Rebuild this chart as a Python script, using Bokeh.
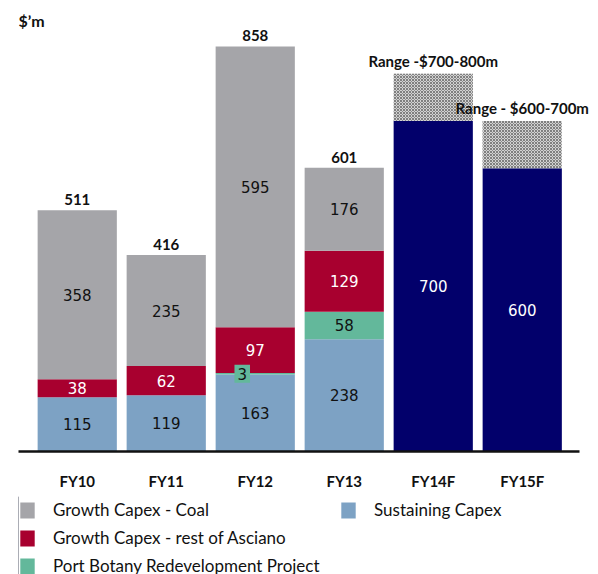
from bokeh.plotting import figure
from bokeh.layouts import column
from bokeh.models import ColumnDataSource, Legend, LegendItem, Label, LabelSet, FixedTicker
from bokeh.core.properties import value
from bokeh.embed import file_html
from bokeh.resources import INLINE

years = ["FY10", "FY11", "FY12", "FY13", "FY14F", "FY15F"]
sustaining = [115, 119, 163, 238, 0, 0]
port_botany = [0, 0, 3, 58, 0, 0]
rest_asciano = [38, 62, 97, 129, 0, 0]
coal = [358, 235, 595, 176, 0, 0]
forecast_low = [0, 0, 0, 0, 700, 600]
forecast_range = [0, 0, 0, 0, 100, 100]
totals = [511, 416, 858, 601, 0, 0]
range_labels = ["", "", "", "", "Range -$700-800m", "Range - $600-700m"]
legend_labels = ["Growth Capex - Coal", "Growth Capex - rest of Asciano",
                 "Port Botany Redevelopment Project", "Sustaining Capex"]

C_COAL = "#A5A5A9"
C_REST = "#A8002F"
C_PORT = "#63B89B"
C_SUST = "#7DA2C4"
C_NAVY = "#02006B"

xs = list(range(len(years)))
W = 0.89
X0, X1 = -0.66, 5.64

p = figure(width=598, height=496, x_range=(X0, X0 + 580 / 89.0), y_range=(0, 934),
           output_backend="svg", toolbar_location=None,
           min_border_left=18, min_border_right=0, min_border_top=10, min_border_bottom=45)
p.yaxis.visible = False
p.grid.visible = False
p.outline_line_color = None

src = ColumnDataSource(dict(x=xs, sustaining=sustaining, port=port_botany,
                            rest=rest_asciano, coal=coal))

rs = p.vbar_stack(["sustaining", "port", "rest", "coal"], x="x", width=W, source=src,
                  color=[C_SUST, C_PORT, C_REST, C_COAL], line_color=None)
p.vbar(x=xs, bottom=0, top=forecast_low, width=W, fill_color=C_NAVY, line_color=None)
p.vbar(x=xs, bottom=forecast_low, top=[a + b for a, b in zip(forecast_low, forecast_range)],
       width=W, fill_color="#d2d2d2", line_color=None,
       hatch_pattern="diagonal_cross", hatch_scale=3, hatch_weight=1, hatch_color="#7f7f7f")

# segment labels
lx, ly, lt, lc = [], [], [], []
sx, sy, st = [], [], []
series = [(sustaining, "#111111"), (port_botany, "#111111"), (rest_asciano, "#ffffff"),
          (coal, "#111111"), (forecast_low, "#ffffff")]
for i in xs:
    base = 0
    for vals, col in series:
        v = vals[i]
        if v > 0:
            if v < 10:
                sx.append(i); sy.append(base + v / 2); st.append(str(v))
            else:
                lx.append(i); ly.append(base + v / 2); lt.append(str(v)); lc.append(col)
        if vals is not forecast_low:
            base += v
p.text(x=lx, y=ly, text=lt, text_color=lc, text_align="center", text_baseline="middle",
       text_font=value("DejaVu Sans"), text_font_size="15px")
p.text(x=sx, y=sy, text=st, text_color="#111111", text_align="center", text_baseline="middle",
       text_font=value("DejaVu Sans"), text_font_size="15px", x_offset=-13,
       background_fill_color=C_PORT, padding=3)

# totals and range labels
tx = [i for i in xs if totals[i] > 0]
tot_src = ColumnDataSource(dict(x=tx, y=[totals[i] for i in tx], t=[str(totals[i]) for i in tx]))
p.add_layout(LabelSet(x="x", y="y", text="t", source=tot_src, text_align="center",
                      text_baseline="bottom", y_offset=5, text_color="#111111",
                      text_font=value("Lato"), text_font_style="bold", text_font_size="15px"))
rx = [i for i in xs if range_labels[i]]
rng_src = ColumnDataSource(dict(x=rx, y=[forecast_low[i] + forecast_range[i] for i in rx],
                                t=[range_labels[i] for i in rx]))
p.add_layout(LabelSet(x="x", y="y", text="t", source=rng_src, text_align="center",
                      text_baseline="bottom", y_offset=4, text_color="#111111",
                      text_font=value("Lato"), text_font_style="bold", text_font_size="15px"))

p.add_layout(Label(x=X0, y=912, text="$\u2019m", text_font="Lato", text_font_style="bold",
                   text_font_size="16px", text_color="#111111", text_baseline="middle"))

ax = p.xaxis[0]
ax.ticker = FixedTicker(ticks=xs)
ax.bounds = (X0, X1)
ax.major_label_overrides = {i: y for i, y in enumerate(years)}
ax.axis_line_width = 2.5
ax.axis_line_color = "#111111"
ax.major_tick_line_color = None
ax.minor_tick_line_color = None
ax.major_tick_out = 0
ax.major_label_standoff = 20
ax.major_label_text_font = "Lato"
ax.major_label_text_font_style = "bold"
ax.major_label_text_font_size = "15px"
ax.major_label_text_color = "#111111"

# legend strip (swatch renderers sit outside the visible range; only the legend shows)
leg = figure(width=598, height=78, x_range=(0, 1), y_range=(0, 1),
             output_backend="svg", toolbar_location=None,
             min_border_left=0, min_border_right=0, min_border_top=0, min_border_bottom=0)
leg.axis.visible = False
leg.grid.visible = False
leg.outline_line_color = None
leg_colors = [C_COAL, C_REST, C_PORT, C_SUST]
leg_rs = [leg.vbar(x=[-5], top=[1], width=1, fill_color=c, line_color=None) for c in leg_colors]
legend = Legend(items=[LegendItem(label=l, renderers=[r]) for l, r in zip(legend_labels, leg_rs)],
                nrows=3, orientation="vertical", location=(0, -2),
                label_text_font="Lato", label_text_font_size="17px", label_text_color="#111111",
                glyph_width=18, glyph_height=20, label_height=20, label_width=279,
                label_standoff=17, spacing=7, padding=0, margin=0, border_line_color=None,
                background_fill_alpha=0)
leg.add_layout(legend, "center")

open("out.html", "w").write(file_html(column(p, leg, spacing=0), INLINE))
